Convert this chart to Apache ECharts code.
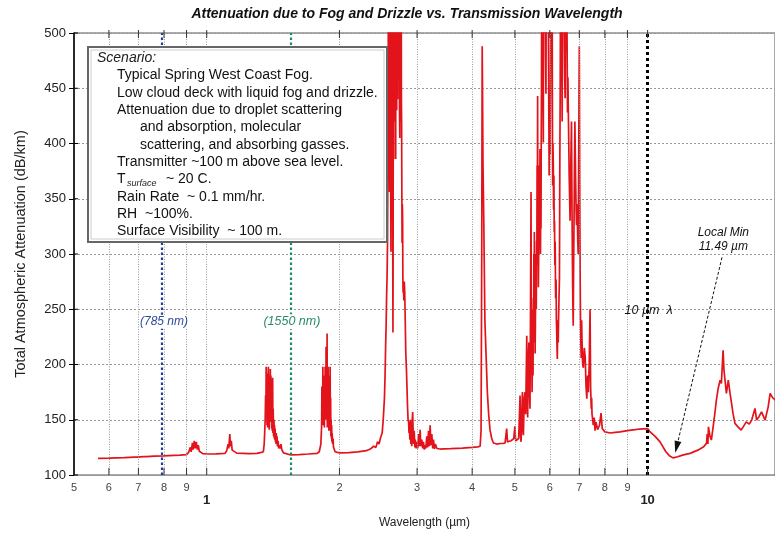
<!DOCTYPE html>
<html><head><meta charset="utf-8">
<script src="https://cdn.jsdelivr.net/npm/echarts@6/dist/echarts.min.js"></script>
<style>html,body{margin:0;padding:0;background:#fff}#c{width:775px;height:535px}</style>
</head><body><div id="c"></div>
<script>
// ---- data: [wavelength (µm), total attenuation (dB/km)] ----
const visNir = [[0.567,115.0],[0.60,115.3],[0.65,115.8],[0.685,116.2],[0.69,117.0],[0.695,116.2],[0.72,116.6],[0.725,118.0],[0.73,116.7],[0.76,117.0],[0.763,118.6],[0.767,117.1],[0.80,117.3],[0.82,117.6],[0.823,119.0],[0.827,117.6],[0.87,118.0],[0.90,118.4],[0.91,120.5],[0.918,125],[0.922,121],[0.928,129],[0.932,123],[0.937,131],[0.942,124],[0.947,130],[0.952,123],[0.957,127],[0.962,121.5],[0.97,120],[0.98,119.3],[1.00,119],[1.05,119.2],[1.10,119.6],[1.11,122],[1.118,128],[1.122,124],[1.128,137],[1.132,126],[1.137,131],[1.142,122.5],[1.15,121],[1.17,119.8],[1.25,119.4],[1.30,119.6],[1.33,120.5]];
const band138 = [[1.344,121],[1.350,128],[1.354,140],[1.357,150],[1.360,172],[1.362,155],[1.364,198],[1.366,160],[1.368,192],[1.370,145],[1.373,190],[1.375,143],[1.377,185],[1.380,198],[1.382,150],[1.384,190],[1.386,141],[1.388,185],[1.391,150],[1.394,196],[1.396,148],[1.398,190],[1.400,150],[1.402,180],[1.404,142],[1.406,170],[1.408,140],[1.411,188],[1.413,138],[1.415,160],[1.418,135],[1.421,150],[1.423,133],[1.425,145],[1.427,132],[1.429,142],[1.432,130],[1.434,138],[1.436,128],[1.438,138],[1.441,129],[1.444,135],[1.446,126],[1.452,131],[1.456,124],[1.46,127],[1.467,124],[1.474,128],[1.480,123],[1.487,122],[1.493,120],[1.506,119],[1.545,118.3]];
const band187 = [[1.62,118.5],[1.70,119],[1.78,119.5],[1.80,121],[1.808,122.6],[1.815,128],[1.818,135],[1.822,143.6],[1.825,180],[1.827,150],[1.829,175],[1.832,145],[1.834,198],[1.837,150],[1.840,190],[1.843,145],[1.846,175],[1.849,143],[1.851,190],[1.854,150],[1.856,198],[1.859,150],[1.861,190],[1.863,160],[1.865,216],[1.868,155],[1.870,200],[1.873,150],[1.875,228],[1.877,143],[1.880,195],[1.882,150],[1.885,198],[1.888,145],[1.890,185],[1.893,140],[1.896,180],[1.898,140],[1.900,190],[1.903,145],[1.905,198],[1.908,140],[1.910,170],[1.913,135],[1.915,150],[1.918,133],[1.920,145],[1.923,130],[1.925,138],[1.930,128],[1.935,133],[1.938,125.6],[1.947,127],[1.955,121],[1.979,120.5],[2.006,120],[2.1,120.3],[2.2,121],[2.3,122],[2.35,123.5],[2.39,126],[2.42,125],[2.44,130],[2.46,128],[2.48,134],[2.50,138],[2.514,150]];
const band27 = [[2.53,170],[2.538,190],[2.545,215],[2.552,235],[2.558,260],[2.565,280],[2.571,311],[2.575,380],[2.578,420],[2.582,520],[2.585,620],[2.588,450],[2.592,600],[2.595,420],[2.598,356],[2.601,620],[2.605,450],[2.608,620],[2.611,560],[2.614,380],[2.617,302],[2.620,560],[2.624,420],[2.627,620],[2.631,480],[2.634,620],[2.638,560],[2.641,330],[2.645,229],[2.648,350],[2.651,620],[2.655,386],[2.658,620],[2.661,450],[2.664,620],[2.668,420],[2.672,620],[2.676,450],[2.680,620],[2.683,386],[2.687,620],[2.690,470],[2.693,620],[2.697,430],[2.700,620],[2.703,520],[2.707,620],[2.711,440],[2.715,620],[2.719,480],[2.722,620],[2.726,460],[2.730,620],[2.733,540],[2.737,430],[2.741,405],[2.745,620],[2.750,470],[2.754,620],[2.757,420],[2.760,620],[2.764,440],[2.767,420],[2.771,350],[2.774,310],[2.778,345],[2.782,330],[2.785,280],[2.789,265],[2.794,275],[2.799,258],[2.806,275],[2.813,265],[2.820,240],[2.828,211],[2.838,195],[2.848,175],[2.855,160],[2.862,150],[2.870,148],[2.876,138],[2.882,145],[2.889,132],[2.897,150],[2.904,128],[2.912,135],[2.918,126],[2.925,150],[2.932,157],[2.94,135],[2.947,128],[2.955,140],[2.965,125],[2.972,132],[2.985,124],[2.998,130],[3.01,124],[3.025,137],[3.035,126],[3.048,141],[3.06,126],[3.075,132],[3.09,124],[3.101,130],[3.115,123],[3.128,127],[3.14,124],[3.156,135],[3.17,125],[3.185,140],[3.20,126],[3.211,145],[3.225,127],[3.24,137],[3.255,124],[3.268,132],[3.285,123.5],[3.30,128],[3.327,124],[3.36,124.5],[3.386,123.5],[3.45,123.7],[3.575,123.8]];
const band43 = [[3.8,124.3],[4.0,125],[4.12,125.5],[4.17,126],[4.19,140],[4.205,300],[4.215,488],[4.222,450],[4.232,384],[4.25,330],[4.275,240],[4.30,210],[4.33,175],[4.36,155],[4.39,141],[4.43,133],[4.47,129],[4.55,128],[4.63,128.5],[4.70,128.5],[4.75,129],[4.79,142],[4.81,130],[4.90,131],[4.97,133],[5.00,144],[5.02,131],[5.06,132]];
const band63 = [[5.10,133],[5.137,172],[5.15,135],[5.164,130],[5.18,150],[5.20,175],[5.215,140],[5.227,136],[5.25,170],[5.272,175],[5.29,155],[5.32,226],[5.335,165],[5.345,152],[5.36,200],[5.38,220],[5.395,175],[5.41,160],[5.425,250],[5.432,300],[5.44,356],[5.447,230],[5.455,250],[5.462,200],[5.47,175],[5.48,210],[5.49,230],[5.497,190],[5.505,260],[5.512,220],[5.52,300],[5.527,250],[5.535,320],[5.542,230],[5.55,260],[5.557,210],[5.565,235],[5.572,280],[5.58,300],[5.59,250],[5.60,312],[5.607,290],[5.615,380],[5.622,330],[5.63,443],[5.637,300],[5.645,320],[5.652,270],[5.66,295],[5.67,340],[5.68,380],[5.69,330],[5.70,395],[5.707,340],[5.715,300],[5.722,350],[5.73,323],[5.737,400],[5.745,450],[5.752,560],[5.76,620],[5.77,480],[5.78,520],[5.79,450],[5.80,401],[5.807,600],[5.815,520],[5.822,620],[5.83,620],[5.842,500],[5.855,580],[5.867,480],[5.88,445],[5.892,560],[5.905,600],[5.917,520],[5.93,620],[5.942,560],[5.955,520],[5.967,440],[5.98,371],[5.99,400],[6.00,420],[6.01,390],[6.02,445],[6.032,520],[6.045,600],[6.057,560],[6.07,620],[6.08,450],[6.09,362],[6.10,400],[6.11,380],[6.12,340],[6.13,371],[6.14,320],[6.15,330],[6.16,290],[6.17,311],[6.185,260],[6.20,277],[6.21,240],[6.22,230],[6.23,215],[6.24,205],[6.25,230],[6.26,240],[6.27,220],[6.28,240],[6.295,260],[6.31,278],[6.322,380],[6.335,450],[6.347,560],[6.36,620],[6.37,560],[6.38,520],[6.39,470],[6.40,420],[6.41,520],[6.42,600],[6.43,560],[6.44,620],[6.455,540],[6.47,500],[6.485,460],[6.50,441],[6.512,500],[6.525,560],[6.537,600],[6.55,620],[6.565,500],[6.58,428],[6.595,460],[6.61,428],[6.625,400],[6.64,370],[6.655,350],[6.67,330],[6.682,360],[6.695,380],[6.707,400],[6.72,420],[6.735,350],[6.75,300],[6.765,260],[6.78,235],[6.795,290],[6.81,330],[6.825,380],[6.84,420],[6.855,390],[6.87,360],[6.885,340],[6.90,326],[6.915,345],[6.93,330],[6.945,310],[6.96,300],[6.97,350],[6.98,400],[6.99,450],[7.00,488],[7.008,420],[7.015,360],[7.022,320],[7.03,280],[7.04,250],[7.05,230],[7.06,215],[7.07,206],[7.085,240],[7.10,220],[7.125,200],[7.15,197],[7.185,215],[7.22,206],[7.25,180],[7.28,169],[7.31,190],[7.34,175],[7.37,200],[7.405,250],[7.425,180],[7.45,160],[7.465,170],[7.48,155],[7.505,150],[7.53,145],[7.565,152],[7.60,140],[7.63,148],[7.665,145],[7.70,141],[7.73,140.5],[7.78,145],[7.84,156],[7.89,142],[7.94,141],[8.00,139],[8.08,137.6],[8.22,138],[8.44,138.5]];
const farIr = [[8.66,139],[9.0,140.2],[9.36,141],[9.6,141.6],[10.0,142],[10.13,139],[10.4,135],[10.67,130],[11.0,121],[11.2,117.5],[11.42,115.5],[11.7,116.5],[12.0,118],[12.48,119.6],[13.0,122.5],[13.4,125.5],[13.6,128.6],[13.65,137],[13.7,128],[13.74,143.6],[13.85,135],[13.95,131.6],[14.08,143.6],[14.2,155],[14.32,167.7],[14.45,178],[14.6,185.8],[14.7,182.8],[14.83,212.9],[14.9,195],[14.98,185.8],[15.09,173.8],[15.24,185.8],[15.38,173.8],[15.5,165],[15.62,155.7],[15.78,146.7],[15.9,145],[16.03,143.6],[16.3,140.6],[16.5,144],[16.74,148.1],[17.0,146],[17.22,149.7],[17.52,160.2],[17.67,149.7],[17.9,153],[18.13,157.2],[18.47,149.7],[18.77,161.7],[18.96,173.8],[19.2,170],[19.5,167.7],[19.8,170],[20.2,172]];

const xMin = 0.5, xMax = 19.45;
const yTicks = [100, 150, 200, 250, 300, 350, 400, 450, 500];
const majorTicks = [1, 10];
const minorTicks = [0.5, 0.6, 0.7, 0.8, 0.9, 2, 3, 4, 5, 6, 7, 8, 9];
const minorLabels = ['5','6','7','8','9','2','3','4','5','6','7','8','9'];
const markerLines = [0.785, 1.55, 10];          // µm
const markerColors = ['#1f3c99', '#1a8c5c', '#000000'];
const scenarioLines = [
  'Typical Spring West Coast Fog.',
  'Low cloud deck with liquid fog and drizzle.',
  'Attenuation due to droplet scattering',
  '      and absorption, molecular',
  '      scattering, and absorbing gasses.',
  'Transmitter ~100 m above sea level.',
  'T',
  'Rain Rate  ~ 0.1 mm/hr.',
  'RH  ~100%.',
  'Surface Visibility  ~ 100 m.'
];

const FONT = '"Liberation Sans", Arial, Helvetica, sans-serif';
const curve = [].concat(visNir, band138, band187, band27, band43, band63, farIr);

const chart = echarts.init(document.getElementById('c'), null, {renderer: 'canvas'});

const gridLineData = minorTicks.map((t, i) => ({
  xAxis: t,
  label: {show: true, formatter: minorLabels[i]},
  lineStyle: t === 0.5 ? {color: 'rgba(0,0,0,0)'} : {}
}));
gridLineData.push({xAxis: 1, label: {show: false}});

const specialData = markerLines.map((t, i) => ({
  xAxis: t,
  lineStyle: {color: markerColors[i], width: i === 2 ? 3 : 2.2, type: i === 2 ? [3, 3] : [2.5, 2.5]}
}));

chart.setOption({
  animation: false,
  backgroundColor: '#ffffff',
  grid: {left: 74, top: 33, right: 0, bottom: 60, show: true, borderColor: '#555', borderWidth: 1, backgroundColor: 'transparent'},
  xAxis: {
    type: 'log', logBase: 10, min: xMin, max: xMax,
    name: 'Wavelength (µm)', nameLocation: 'middle', nameGap: 42,
    nameTextStyle: {fontSize: 12, color: '#222', fontFamily: FONT},
    axisLine: {lineStyle: {color: '#999', width: 1}},
    axisTick: {show: false},
    axisLabel: {fontSize: 13, fontWeight: 'bold', color: '#222', margin: 19, fontFamily: FONT,
      showMinLabel: false, showMaxLabel: false,
      formatter: v => majorTicks.some(m => Math.abs(m - v) < 1e-6) ? String(Math.round(v)) : ''},
    splitLine: {show: false}
  },
  yAxis: {
    type: 'value', min: 100, max: 500, interval: 50,
    name: 'Total Atmospheric Attenuation (dB/km)', nameLocation: 'middle', nameGap: 46,
    nameTextStyle: {fontSize: 14.5, color: '#222', fontFamily: FONT},
    axisLine: {show: true, lineStyle: {color: '#000', width: 1.5}},
    axisTick: {show: true, length: 5, lineStyle: {color: '#000'}},
    axisLabel: {fontSize: 13, color: '#222', margin: 8, fontFamily: FONT},
    splitLine: {show: true, lineStyle: {color: '#999', type: [2, 2], width: 1}}
  },
  series: [
    {
      type: 'line', data: [], z: 1, silent: true,
      markLine: {
        silent: true, animation: false, symbol: ['none', 'none'],
        lineStyle: {color: '#999', type: [1, 1.5], width: 1},
        label: {position: 'start', distance: 7, fontSize: 11, color: '#444', fontFamily: FONT},
        data: gridLineData
      }
    },
    {
      type: 'line', data: curve, z: 3, symbol: 'none', showSymbol: false,
      sampling: false, clip: true, silent: true,
      lineStyle: {color: '#e3131b', width: 1.7}
    },
    {
      type: 'line', data: [], z: 4, silent: true,
      markLine: {
        silent: true, animation: false, symbol: ['none', 'none'],
        label: {show: false},
        data: specialData
      }
    }
  ]
});

const P = (l, v) => chart.convertToPixel({xAxisIndex: 0, yAxisIndex: 0}, [l, v]);
const g = [];
// short tick marks inside the bottom / top edges and inside the left edge (positions from the axis scale)
minorTicks.concat(majorTicks).filter(t => t > xMin).forEach(t => {
  const b = P(t, 100), tp = P(t, 500);
  g.push({type: 'line', z: 50, shape: {x1: b[0], y1: b[1], x2: b[0], y2: b[1] - 7}, style: {stroke: '#333', lineWidth: 1}});
  g.push({type: 'line', z: 50, shape: {x1: tp[0], y1: tp[1] - 3, x2: tp[0], y2: tp[1] + 5}, style: {stroke: '#333', lineWidth: 1}});
});
yTicks.forEach(v => {
  const q = P(xMin, v);
  g.push({type: 'line', z: 50, shape: {x1: q[0], y1: q[1], x2: q[0] + 4, y2: q[1]}, style: {stroke: '#000', lineWidth: 1}});
});
// title
g.push({type: 'text', z: 100, x: 407, y: 14, style: {text: 'Attenuation due to Fog and Drizzle vs. Transmission Wavelength', font: 'italic bold 14px ' + FONT, fill: '#111', align: 'center', verticalAlign: 'middle'}});
// scenario box
g.push({type: 'rect', z: 100, shape: {x: 88, y: 47, width: 299, height: 195}, style: {fill: '#fff', stroke: '#666', lineWidth: 2}});
g.push({type: 'rect', z: 100, shape: {x: 91, y: 50, width: 293, height: 189}, style: {fill: 'none', stroke: '#ccc', lineWidth: 1}});
g.push({type: 'text', z: 101, x: 97, y: 58, style: {text: 'Scenario:', font: 'italic 14px ' + FONT, fill: '#222', verticalAlign: 'middle'}});
scenarioLines.forEach((t, i) => {
  const y = 75.4 + i * 17.35;
  const indent = t.startsWith('      ');
  g.push({type: 'text', z: 101, x: indent ? 140 : 117, y: y, style: {text: t.trim(), font: '14px ' + FONT, fill: '#111', verticalAlign: 'middle'}});
  if (t === 'T') {
    g.push({type: 'text', z: 101, x: 127, y: y + 4, style: {text: 'surface', font: 'italic 9px ' + FONT, fill: '#222', verticalAlign: 'middle'}});
    g.push({type: 'text', z: 101, x: 166, y: y, style: {text: '~ 20 C.', font: '14px ' + FONT, fill: '#111', verticalAlign: 'middle'}});
  }
});
// wavelength labels
let p = P(0.80, 238.8);
g.push({type: 'text', z: 101, x: p[0], y: p[1], style: {text: '(785 nm)', font: 'italic 12px ' + FONT, fill: '#2a4a9a', align: 'center', verticalAlign: 'middle', backgroundColor: '#fff', padding: [1, 1]}});
p = P(1.56, 238.8);
g.push({type: 'text', z: 101, x: p[0], y: p[1], style: {text: '(1550 nm)', font: 'italic 12.5px ' + FONT, fill: '#2a8a6a', align: 'center', verticalAlign: 'middle', backgroundColor: '#fff', padding: [1, 1]}});
p = P(10.05, 248.8);
g.push({type: 'text', z: 101, x: p[0], y: p[1], style: {text: '10 µm  λ', font: 'italic 12.5px ' + FONT, fill: '#111', align: 'center', verticalAlign: 'middle'}});
p = P(14.85, 313);
g.push({type: 'text', z: 101, x: p[0], y: p[1], style: {text: 'Local Min\n11.49 µm', font: 'italic 12px ' + FONT, fill: '#111', align: 'center', verticalAlign: 'middle', lineHeight: 14}});
// arrow to local minimum
const a0 = P(14.75, 297), a1 = P(11.55, 120);
const dx = a1[0] - a0[0], dy = a1[1] - a0[1], L = Math.hypot(dx, dy), ux = dx / L, uy = dy / L;
const hl = 12, hw = 3.5;
const bx = a1[0] - ux * hl, by = a1[1] - uy * hl;
g.push({type: 'line', z: 101, shape: {x1: a0[0], y1: a0[1], x2: bx, y2: by}, style: {stroke: '#111', lineWidth: 1, lineDash: [3, 2]}});
g.push({type: 'polygon', z: 101, shape: {points: [[a1[0], a1[1]], [bx - uy * hw, by + ux * hw], [bx + uy * hw, by - ux * hw]]}, style: {fill: '#111'}});

chart.setOption({graphic: g});
</script>
</body></html>
